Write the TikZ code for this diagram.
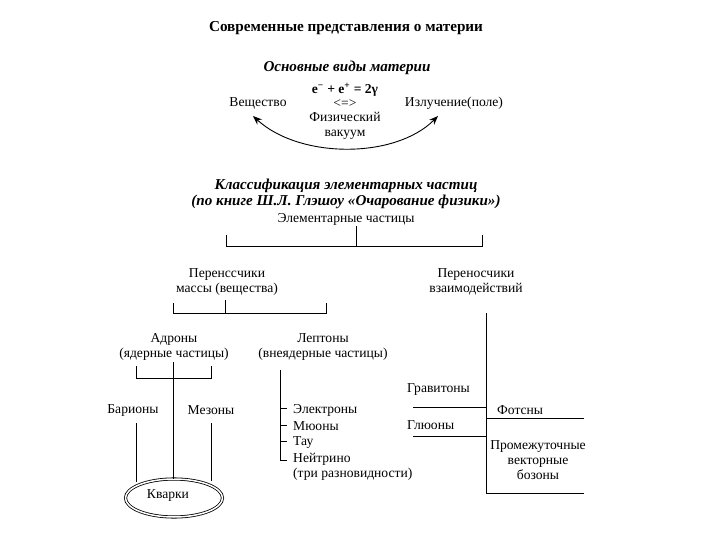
\documentclass[tikz,border=0pt]{standalone}
\usepackage{fontspec}
\setmainfont{Liberation Serif}
\usetikzlibrary{arrows.meta,shapes.geometric}
\begin{document}
\begin{tikzpicture}[x=1pt,y=-1pt,
  txt/.style={inner sep=0pt, font=\fontsize{13.6}{15}\selectfont, align=center},
  ttl/.style={inner sep=0pt, font=\fontsize{15.2}{17}\selectfont\bfseries},
  hd/.style={inner sep=0pt, font=\fontsize{15.1}{16}\selectfont\bfseries\itshape, align=center},
  ln/.style={line width=0.8pt, black}]
\useasboundingbox[fill=white] (0,0) rectangle (720,540);

% titles
\node[ttl] (title) at (346,28) {Современные представления о материи};
\node[hd] (kinds) at (347,68) {Основные виды материи};

\node[txt, font=\fontsize{13.6}{15}\selectfont\bfseries] (eq) at (345,90) {e\textsuperscript{−} + e\textsuperscript{+} = 2γ};
\node[txt] (eqv) at (345,104) {<=>};
\node[txt] (vac) at (345,126) {Физический\\вакуум};
\node[txt] (sub) at (258,103) {Вещество};
\node[txt] (rad) at (454,103) {Излучение(поле)};
\coordinate (ra) at (438,116);
\coordinate (la) at (253,116);
\draw[ln, line width=0.9pt, {Stealth[length=9pt,width=7pt]}-{Stealth[length=9pt,width=7pt]}]
  (la) .. controls (300,159) and (395,159) .. (ra);

\node[hd] (cls) at (346,194) {Классификация элементарных частиц\\(по книге Ш.Л. Глэшоу «Очарование физики»)};
\node[txt] (ep) at (346,219) {Элементарные частицы};

\node[txt] (mass) at (227,282) {Перенсcчики\\массы (вещества)};
\node[txt] (inter) at (476,282) {Переносчики\\взаимодействий};

% top tree
\coordinate (t0) at (356,226);
\coordinate (t1) at (356,246);
\coordinate (tl) at (226,246);
\coordinate (tr) at (482,246);
\draw[ln] (t0) -- (t1);
\draw[ln] ([yshift=11pt]tl) -- (tl) -- (tr) -- ([yshift=11pt]tr);

% mass tree
\node[txt] (had) at (174,347) {Адроны\\(ядерные частицы)};
\node[txt] (lep) at (323,347) {Лептоны\\(внеядерные частицы)};
\coordinate (m0) at (225,300);
\coordinate (m1) at (225,313);
\coordinate (ml) at (173,313);
\coordinate (mr) at (326,313);
\draw[ln] (m0) -- (m1);
\draw[ln] ([yshift=10pt]ml) -- (ml) -- (mr) -- ([yshift=10pt]mr);

% hadrons
\node[txt] (bar) at (133,410) {Барионы};
\node[txt] (mes) at (211,410) {Мезоны};
\node[ellipse, draw, double, line width=0.8pt, double distance=1.5pt,
      minimum width=97pt, minimum height=38pt, inner sep=0pt] (kv) at (174,498) {};
\node[txt] (kvt) at (168,495) {Кварки};
\coordinate (h0) at (173,362);
\coordinate (hl) at (136,378);
\coordinate (hr) at (211,378);
\draw[ln] (h0) -- (h0 |- kv.north);
\draw[ln] ([yshift=12pt]hl) -- (hl) -- (hr) -- ([yshift=12pt]hr);
\coordinate (bl) at (136,423);
\coordinate (br) at (211,423);
\draw[ln] (bl) -- (bl |- kv.150);
\draw[ln] (br) -- (br |- kv.35);

% leptons
\node[txt, anchor=west] (el) at (293,410) {Электроны};
\node[txt, anchor=west] (mu) at (293,426) {Мюоны};
\node[txt, anchor=west] (tau) at (293,443) {Тау};
\node[txt, anchor=west, align=left] (nu) at (293,467) {Нейтрино\\(три разновидности)};
\coordinate (l0) at (280,370);
\coordinate (l1) at (280,460);
\draw[ln] (l0) -- (l1) -- ++(7,0);
\draw[ln] (280,408) coordinate (le) -- ++(7,0);
\draw[ln] (280,425) coordinate (lm) -- ++(7,0);
\draw[ln] (280,441) coordinate (lt) -- ++(7,0);

% interactions
\node[txt, anchor=west] (gr) at (407,389) {Гравитоны};
\node[txt, anchor=west] (gl) at (407,425) {Глюоны};
\node[txt, anchor=west] (ph) at (497,410) {Фотсны};
\node[txt] (wz) at (538,460) {Промежуточные\\векторные\\бозоны};
\coordinate (i0) at (486,313);
\coordinate (i1) at (486,493);
\draw[ln] (i0) -- (i1) -- (584,493);
\draw[ln] (413,407) coordinate (ig) -- (486,407);
\draw[ln] (413,436) coordinate (ij) -- (486,436);
\draw[ln] (486,418) coordinate (ip) -- (584,418);
\end{tikzpicture}
\end{document}
